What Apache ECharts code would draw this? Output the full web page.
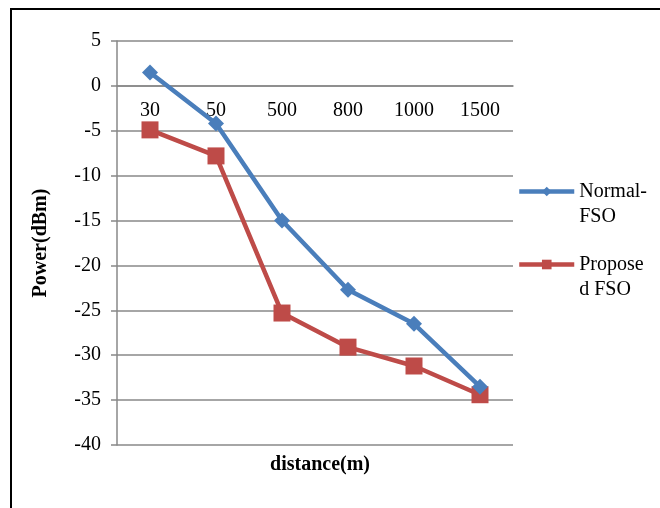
<!DOCTYPE html>
<html>
<head>
<meta charset="utf-8">
<script src="https://cdn.jsdelivr.net/npm/echarts@6/dist/echarts.min.js"></script>
<style>
  html, body { margin: 0; padding: 0; background: #fff; }
  #chart { width: 660px; height: 508px; }
</style>
</head>
<body>
<div id="chart"></div>
<script>
// 距离类别 / 两条功率曲线 (dBm)
const distances = ['30', '50', '500', '800', '1000', '1500']
const normalFso = [1.5, -4.2, -15.0, -22.7, -26.5, -33.5]
const proposedFso = [-4.9, -7.8, -25.3, -29.1, -31.2, -34.4]
const seriesNames = ['Normal-FSO', 'Proposed FSO']
const legendLabels = {'Normal-FSO': 'Normal-\nFSO', 'Proposed FSO': 'Propose\nd FSO'}
const yMin = -40
const yMax = 5

const font = 'Liberation Serif, Times New Roman, serif'
const gridColor = '#888888'
const gridTop = 41
const gridBottom = 63
const plotHeight = 508 - gridTop - gridBottom
// x 轴放在 y=0 处 (Excel 风格)
const zeroOffset = -plotHeight * (0 - yMin) / (yMax - yMin)

const myChart = echarts.init(document.getElementById('chart'))
const option = {
  animation: false,
  title: {
    text: 'distance(m)',
    left: 315,
    top: 450,
    textAlign: 'center',
    textStyle: {fontFamily: font, fontSize: 20, fontWeight: 'bold', color: '#000'}
  },
  grid: {left: 117, right: 147, top: gridTop, bottom: gridBottom},
  legend: {
    orient: 'vertical',
    left: 512,
    top: 149,
    itemWidth: 55,
    itemHeight: 12,
    itemGap: -2,
    // 首行与图标对齐: 前面补一个空行
    formatter: (name) => '\n' + legendLabels[name],
    lineStyle: {width: 4.5},
    textStyle: {fontFamily: font, fontSize: 20, color: '#000', lineHeight: 25},
    data: seriesNames
  },
  graphic: [
    {
      type: 'rect',
      shape: {x: 11, y: 9, width: 700, height: 560},
      style: {fill: 'none', stroke: '#000', lineWidth: 2},
      silent: true
    }
  ],
  xAxis: {
    type: 'category',
    data: distances,
    boundaryGap: true,
    position: 'bottom',
    offset: zeroOffset,
    axisLine: {onZero: false, lineStyle: {color: gridColor, width: 1.5}},
    axisTick: {show: false},
    axisLabel: {fontFamily: font, fontSize: 20, color: '#000', margin: 15},
    splitLine: {show: false}
  },
  yAxis: {
    type: 'value',
    min: yMin,
    max: yMax,
    interval: 5,
    name: 'Power(dBm)',
    nameLocation: 'middle',
    nameRotate: 90,
    nameGap: 66,
    nameTextStyle: {fontFamily: font, fontSize: 20, fontWeight: 'bold', color: '#000'},
    axisLine: {show: true, lineStyle: {color: gridColor, width: 1.5}},
    axisTick: {show: true, length: 6, lineStyle: {color: gridColor, width: 1.5}},
    axisLabel: {fontFamily: font, fontSize: 20, color: '#000', margin: 16},
    splitLine: {show: true, lineStyle: {color: gridColor, width: 1.5}}
  },
  series: [
    {
      name: seriesNames[0],
      type: 'line',
      data: normalFso,
      symbol: 'diamond',
      symbolSize: 16,
      lineStyle: {color: '#4a7ebb', width: 4.5},
      itemStyle: {color: '#4a7ebb'},
      z: 3
    },
    {
      name: seriesNames[1],
      type: 'line',
      data: proposedFso,
      symbol: 'rect',
      symbolSize: 17,
      lineStyle: {color: '#be4b48', width: 4.5},
      itemStyle: {color: '#be4b48'},
      z: 2
    }
  ]
}
myChart.setOption(option)
</script>
</body>
</html>
